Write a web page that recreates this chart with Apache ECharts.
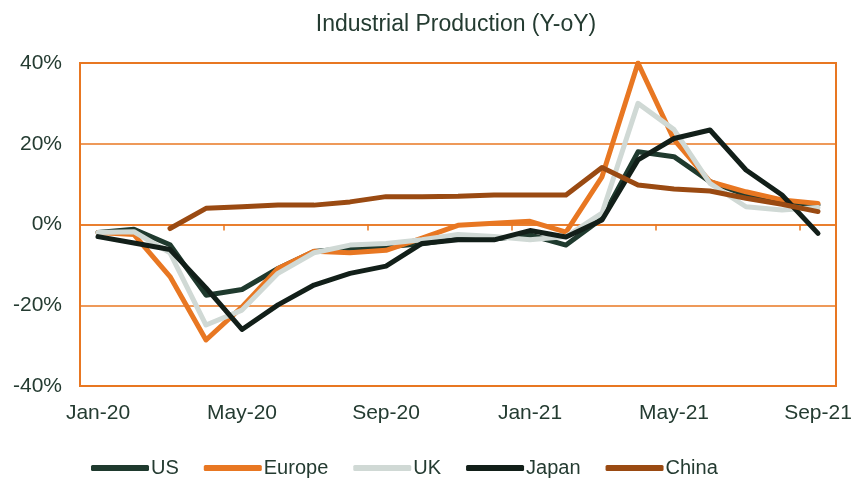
<!DOCTYPE html>
<html>
<head>
<meta charset="utf-8">
<script src="https://cdn.jsdelivr.net/npm/echarts@6/dist/echarts.min.js"></script>
<style>
  html, body { margin: 0; padding: 0; background: #fff; }
  #chart { width: 858px; height: 478px; }
</style>
</head>
<body>
<div id="chart"></div>
<script>
// months on the x axis
const months = [
  'Jan-20', 'Feb-20', 'Mar-20', 'Apr-20', 'May-20', 'Jun-20', 'Jul-20',
  'Aug-20', 'Sep-20', 'Oct-20', 'Nov-20', 'Dec-20', 'Jan-21', 'Feb-21',
  'Mar-21', 'Apr-21', 'May-21', 'Jun-21', 'Jul-21', 'Aug-21', 'Sep-21'
]

// industrial production, % year on year
const us = [-2.0, -1.2, -5.0, -17.5, -16.1, -10.9, -6.7, -5.9, -5.5, -4.8, -3.5, -3.6, -2.6, -5.1, 1.5, 18.0, 16.8, 10.6, 7.3, 5.7, 4.8]
const europe = [-2.0, -2.5, -12.9, -28.6, -20.4, -10.9, -6.6, -7.0, -6.4, -3.4, -0.2, 0.3, 0.8, -1.9, 11.8, 40.0, 21.0, 10.6, 8.1, 6.1, 5.2]
const uk = [-2.0, -1.8, -7.0, -24.9, -21.2, -12.1, -7.0, -5.1, -4.7, -3.8, -2.5, -3.0, -3.8, -3.0, 2.8, 30.0, 23.5, 10.2, 4.4, 3.6, 4.2]
const japan = [-3.0, -4.6, -6.2, -15.7, -26.0, -19.9, -15.0, -12.1, -10.3, -4.7, -3.8, -3.8, -1.5, -3.1, 1.1, 16.0, 21.3, 23.4, 13.5, 7.3, -2.2]
const china = [null, null, -1.0, 4.0, 4.4, 4.8, 4.8, 5.6, 6.9, 6.9, 7.0, 7.3, 7.3, 7.3, 14.1, 9.8, 8.8, 8.3, 6.5, 5.0, 3.2]

const yTicks = [-40, -20, 0, 20, 40]

const orange = '#e87722'
const textColor = '#243b31'
const font = "'Liberation Sans Narrow', 'Arial Narrow', 'Liberation Sans', sans-serif"

const chart = echarts.init(document.getElementById('chart'))

function line(name, data, color) {
  return {
    name: name,
    type: 'line',
    data: data,
    xAxisIndex: 0,
    symbol: 'none',
    connectNulls: false,
    lineStyle: { color: color, width: 5, cap: 'round', join: 'round' },
    itemStyle: { color: color },
    animation: false
  }
}

chart.setOption({
  backgroundColor: '#fff',
  textStyle: { fontFamily: font },
  title: {
    text: 'Industrial Production (Y-oY)',
    left: 451,
    top: 8,
    textAlign: 'center',
    textStyle: { fontFamily: font, fontSize: 23, fontWeight: 'normal', color: textColor }
  },
  legend: {
    left: 86,
    top: 453,
    icon: 'roundRect',
    itemWidth: 58,
    itemHeight: 6,
    itemGap: 25,
    textStyle: { fontFamily: font, fontSize: 20, color: textColor, padding: [0, 0, 0, -3] },
    data: ['US', 'Europe', 'UK', 'Japan', 'China']
  },
  grid: {
    left: 80,
    right: 22,
    top: 63,
    bottom: 92,
    show: true,
    borderColor: orange,
    borderWidth: 2
  },
  xAxis: [{
    type: 'category',
    data: months,
    position: 'bottom',
    boundaryGap: true,
    axisLine: { show: false, onZero: false },
    axisTick: { show: false },
    axisLabel: {
      interval: 3,
      margin: 17,
      fontFamily: font,
      fontSize: 21,
      color: textColor
    }
  }, {
    // tick marks sitting on the 0% line
    type: 'category',
    data: months,
    position: 'top',
    boundaryGap: true,
    axisLine: { show: true, onZero: true, lineStyle: { color: orange, width: 1.5 } },
    axisTick: { show: true, inside: true, interval: 3, length: 6, lineStyle: { color: orange, width: 1.5 } },
    axisLabel: { show: false }
  }],
  yAxis: {
    type: 'value',
    min: yTicks[0],
    max: yTicks[yTicks.length - 1],
    interval: 20,
    axisLine: { show: false },
    axisTick: { show: false },
    splitLine: { lineStyle: { color: orange, width: 1.5 } },
    axisLabel: {
      margin: 18,
      fontFamily: font,
      fontSize: 21,
      color: textColor,
      formatter: v => v + '%'
    }
  },
  series: [
    line('US', us, '#1f3a2e'),
    line('Europe', europe, '#e87722'),
    line('UK', uk, '#d0d9d5'),
    line('Japan', japan, '#121f19'),
    line('China', china, '#9a4a12')
  ]
})
</script>
</body>
</html>
